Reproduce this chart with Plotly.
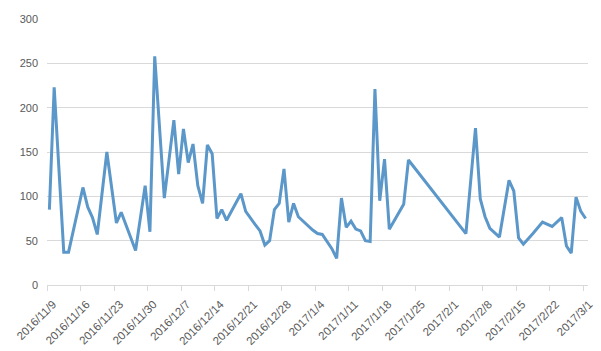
import plotly.graph_objects as go
import pandas as pd

dates = ["2016-11-09","2016-11-10","2016-11-12","2016-11-13","2016-11-16","2016-11-17","2016-11-18","2016-11-19",
         "2016-11-21","2016-11-23","2016-11-24","2016-11-27","2016-11-29","2016-11-30","2016-12-01","2016-12-03",
         "2016-12-05","2016-12-06","2016-12-07","2016-12-08","2016-12-09","2016-12-10","2016-12-11","2016-12-12",
         "2016-12-13","2016-12-14","2016-12-15","2016-12-16","2016-12-19","2016-12-20","2016-12-22","2016-12-23",
         "2016-12-24","2016-12-25","2016-12-26","2016-12-27","2016-12-28","2016-12-29","2016-12-30","2016-12-31",
         "2017-01-03","2017-01-04","2017-01-05","2017-01-07","2017-01-08","2017-01-09","2017-01-10","2017-01-11",
         "2017-01-12","2017-01-13","2017-01-14","2017-01-15","2017-01-16","2017-01-17","2017-01-18","2017-01-19",
         "2017-01-22","2017-01-23","2017-02-04","2017-02-06","2017-02-07","2017-02-08","2017-02-09","2017-02-11",
         "2017-02-13","2017-02-14","2017-02-15","2017-02-16","2017-02-18","2017-02-20","2017-02-22","2017-02-24",
         "2017-02-25","2017-02-26","2017-02-27","2017-02-28","2017-03-01"]
values = [85, 223, 37, 37, 110, 88, 76, 57,
          150, 70, 82, 39, 112, 60, 258, 98,
          186, 125, 176, 138, 159, 112, 92, 158,
          148, 75, 85, 73, 103, 83, 68, 61,
          45, 50, 85, 92, 131, 71, 92, 77,
          62, 58, 57, 41, 30, 98, 65, 72,
          63, 61, 50, 49, 221, 95, 142, 63,
          91, 141, 58, 177, 97, 77, 64, 54,
          118, 106, 53, 46, 58, 71, 66, 76,
          44, 36, 99, 83, 75]

tick_dates = ["2016-11-09","2016-11-16","2016-11-23","2016-11-30","2016-12-07","2016-12-14","2016-12-21",
              "2016-12-28","2017-01-04","2017-01-11","2017-01-18","2017-01-25","2017-02-01","2017-02-08",
              "2017-02-15","2017-02-22","2017-03-01"]
tick_labels = ["2016/11/9","2016/11/16","2016/11/23","2016/11/30","2016/12/7","2016/12/14","2016/12/21",
               "2016/12/28","2017/1/4","2017/1/11","2017/1/18","2017/1/25","2017/2/1","2017/2/8",
               "2017/2/15","2017/2/22","2017/3/1"]

# points sit in the middle of each day's band (Excel "between tick marks" date axis)
x = pd.to_datetime(dates) + pd.Timedelta(hours=12)

fig = go.Figure()
fig.add_trace(go.Scatter(x=x, y=values, mode="lines",
                         line=dict(color="#5b97c9", width=3), hoverinfo="x+y"))

fig.update_layout(
    width=601, height=351,
    margin=dict(l=47, r=13, t=19, b=66),
    paper_bgcolor="white", plot_bgcolor="white",
    showlegend=False,
    font=dict(family="Liberation Sans, Arial, sans-serif", size=11, color="#595959"),
)
fig.update_xaxes(
    range=["2016-11-09", "2017-03-02"], automargin=False,
    tickvals=tick_dates, ticktext=tick_labels, tickangle=-45,
    showgrid=False, showline=True, linecolor="#d9d9d9", linewidth=1,
    ticks="outside", ticklen=5, tickcolor="#d9d9d9",
    ticklabelshift=6, ticklabelstandoff=2,
    tickfont=dict(size=11.5, color="#595959"),
)
fig.update_yaxes(
    range=[0, 300], dtick=50, tick0=0, automargin=False,
    showgrid=True, gridcolor="#d9d9d9", gridwidth=1,
    zeroline=False, showline=False,
    ticks="", ticklabelstandoff=8,
    tickfont=dict(size=11, color="#595959"),
)

fig.write_html("out.html")
